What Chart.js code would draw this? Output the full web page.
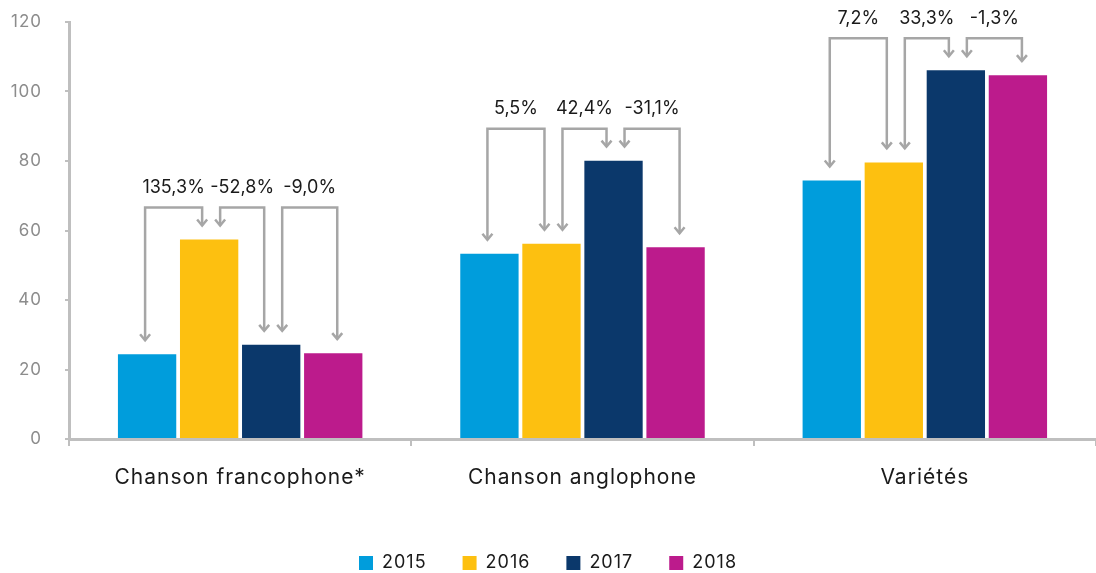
<!DOCTYPE html>
<html>
<head>
<meta charset="utf-8">
<script src="https://cdn.jsdelivr.net/npm/chart.js@4.4.1/dist/chart.umd.min.js"></script>
<style>
  html, body { margin: 0; padding: 0; background: #fff; }
  #wrap { width: 1096px; height: 573px; }
</style>
</head>
<body>
<div id="wrap"><canvas id="chart"></canvas></div>
<script>
// categories and series
const categories = ['Chanson francophone*', 'Chanson anglophone', 'Variétés'];
const years = ['2015', '2016', '2017', '2018'];
const values2015 = [24.4, 53.3, 74.4];
const values2016 = [57.4, 56.2, 79.6];
const values2017 = [27.1, 80.1, 106.1];
const values2018 = [24.7, 55.2, 104.7];
const yearColors = ['#009ddc', '#fdc010', '#0b386b', '#bc1b8c'];
// year-on-year change labels, per category
const changeLabels = [
    ['135,3%', '-52,8%', '-9,0%'],
    ['5,5%', '42,4%', '-31,1%'],
    ['7,2%', '33,3%', '-1,3%']
];

const FONT = 'Inter, "Open Sans", sans-serif';

// widen the text a little (the original font is a wide geometric one)
const spacing = {
    id: 'spacing',
    beforeUpdate(chart) { chart.ctx.letterSpacing = '1px'; },
    beforeLayout(chart) { chart.ctx.letterSpacing = '1px'; },
    beforeDraw(chart) { chart.ctx.letterSpacing = '1px'; }
};

// draws the grey bracket arrows between consecutive bars
const changeArrows = {
    id: 'changeArrows',
    afterDatasetsDraw(chart) {
        const ctx = chart.ctx;
        const metas = years.map((y, i) => chart.getDatasetMeta(i));
        ctx.save();
        ctx.strokeStyle = '#a6a6a6';
        ctx.lineWidth = 2.5;
        ctx.letterSpacing = '0px';
        categories.forEach((cat, j) => {
            const bars = metas.map(m => m.data[j]);
            const top = Math.min(...bars.map(b => b.y)) - 32;
            for (let i = 0; i < bars.length - 1; i++) {
                const a = bars[i], b = bars[i + 1];
                const x1 = a.x + (i === 0 ? -2 : 11);
                const x2 = b.x + (i + 1 === bars.length - 1 ? 4 : -7);
                const y1 = a.y - 14, y2 = b.y - 14;
                ctx.beginPath();
                ctx.moveTo(x1, y1);
                ctx.lineTo(x1, top);
                ctx.lineTo(x2, top);
                ctx.lineTo(x2, y2);
                ctx.stroke();
                [[x1, y1], [x2, y2]].forEach(([x, y]) => {
                    ctx.beginPath();
                    ctx.moveTo(x - 5, y - 6);
                    ctx.lineTo(x, y);
                    ctx.lineTo(x + 5, y - 6);
                    ctx.stroke();
                });
                ctx.fillStyle = '#1a1a1a';
                ctx.font = '18px ' + FONT;
                ctx.textAlign = 'center';
                ctx.textBaseline = 'middle';
                ctx.fillText(changeLabels[j][i], (x1 + x2) / 2, top - 20);
            }
        });
        ctx.restore();
    }
};

new Chart(document.getElementById('chart'), {
    type: 'bar',
    data: {
        labels: categories,
        datasets: [values2015, values2016, values2017, values2018].map((vals, i) => ({
            label: years[i],
            data: vals,
            backgroundColor: yearColors[i],
            barPercentage: 0.94,
            categoryPercentage: 0.725
        }))
    },
    options: {
        responsive: true,
        maintainAspectRatio: false,
        animation: false,
        layout: { padding: { top: 22, left: 0, right: 0, bottom: 0 } },
        plugins: {
            tooltip: { enabled: false },
            legend: {
                position: 'bottom',
                maxHeight: 55,
                labels: {
                    boxWidth: 14,
                    boxHeight: 14,
                    padding: 36,
                    color: '#1a1a1a',
                    font: { family: FONT, size: 18 }
                }
            }
        },
        scales: {
            x: {
                afterFit(axis) { axis.height = 79; },
                border: { color: '#bfbfbf', width: 3 },
                grid: { drawOnChartArea: false, drawTicks: true, tickLength: 7, color: '#bfbfbf', lineWidth: 2 },
                ticks: { color: '#1a1a1a', padding: 19, font: { family: FONT, size: 21 } }
            },
            y: {
                min: 0,
                max: 120,
                afterFit(axis) {
                    axis.width = 69;
                    axis.paddingTop = 0;
                    axis.paddingBottom = 0;
                },
                border: { color: '#bfbfbf', width: 3 },
                grid: { drawOnChartArea: false, drawTicks: true, tickLength: 4, color: '#bfbfbf', lineWidth: 2 },
                ticks: { stepSize: 20, color: '#8c8c8c', padding: 23, font: { family: FONT, size: 17 } }
            }
        }
    },
    plugins: [spacing, changeArrows]
});
</script>
</body>
</html>
